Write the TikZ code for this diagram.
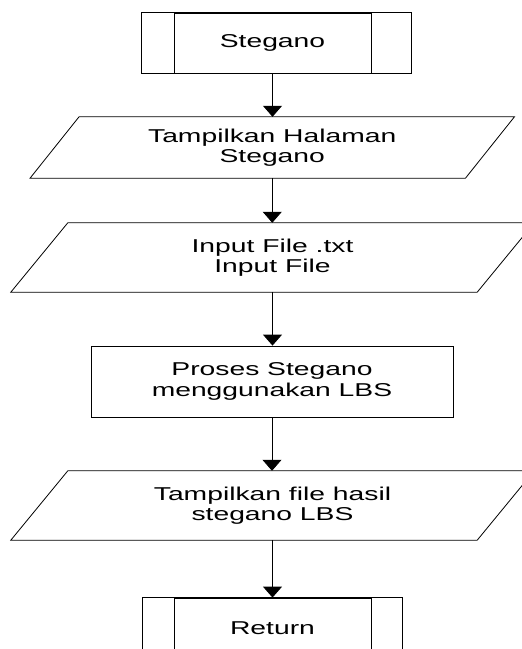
\documentclass[tikz,border=0pt]{standalone}
\usepackage{fontspec}
\setmainfont{Liberation Sans}[FakeStretch=1.52]
\usetikzlibrary{arrows.meta}
\tikzset{
  subproc/.style={draw, line width=0.8pt, minimum width=197pt, minimum height=60pt,
    inner sep=0pt, align=center},
  proc/.style={draw, line width=0.8pt, minimum width=362pt, minimum height=71pt,
    inner sep=0pt, align=center},
  io/.style={minimum width=#1, inner sep=0pt, align=center},
  flow/.style={line width=0.8pt, -{Triangle[width=19pt,length=11pt]}}
}
\begin{document}
\begin{tikzpicture}[x=1pt,y=1pt,font=\fontsize{18.6}{20.5}\selectfont]
      \useasboundingbox (0,0) rectangle (522,-649);
      \clip (0,0) rectangle (522,-649);

      \node[subproc] (start) at (272.5,-43) {Stegano};
      \node[io=435pt, minimum height=61pt] (tampil) at (272.25,-147.5) {Tampilkan Halaman\\Stegano};
      \node[io=466pt, minimum height=69pt] (input) at (272.5,-257.5) {Input File .txt\\Input File};
      \node[proc] (lbs) at (272,-381.5) {Proses Stegano\\menggunakan LBS};
      \node[io=466pt, minimum height=69pt] (hasil) at (272.5,-505.5) {Tampilkan file hasil\\stegano LBS};
      \node[subproc] (ret) at (272.5,-628) {Return};

      % outer frame of the subprocess boxes
      \draw[line width=0.8pt] ([xshift=-32pt]start.south west) rectangle ([xshift=40pt]start.north east);
      \draw[line width=0.8pt] ([xshift=-31pt]ret.south west) rectangle ([xshift=31pt]ret.north east);

      % input / output parallelograms
      \foreach \n / \s in {tampil/24.5, input/28.5, hasil/28.5} {
        \draw[line width=0.8pt] ([xshift=\s pt]\n.north west) -- ([xshift=\s pt]\n.north east)
          -- ([xshift=-\s pt]\n.south east) -- ([xshift=-\s pt]\n.south west) -- cycle;
      }

      \foreach \a / \b in {start/tampil, tampil/input, input/lbs, lbs/hasil, hasil/ret} {
        \draw[flow] (\a.south) -- (\a.south |- \b.north);
      }
    \end{tikzpicture}
\end{document}
